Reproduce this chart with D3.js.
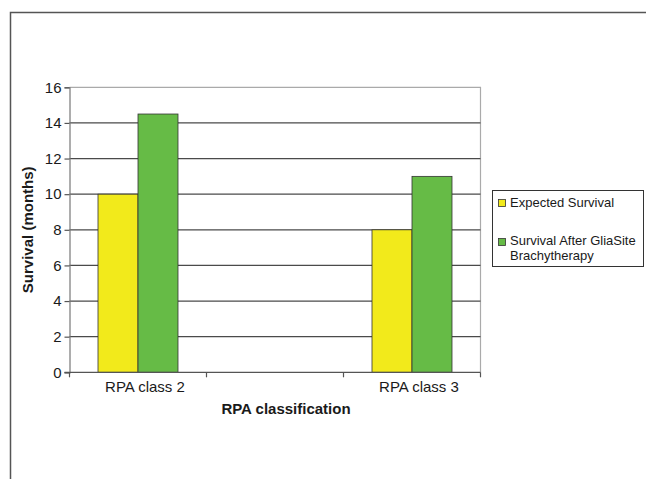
<!DOCTYPE html>
<html>
<head>
<meta charset="utf-8">
<script src="https://cdn.jsdelivr.net/npm/d3@7"></script>
<style>
  html, body { margin: 0; padding: 0; background: #fff; }
  svg { display: block; font-family: "Liberation Sans", Arial, sans-serif; }
</style>
</head>
<body>
<svg id="chart" width="646" height="479"></svg>
<script>
// Categories along the x axis (the middle slot is left empty)
const categories = ["RPA class 2", "", "RPA class 3"];
const seriesNames = ["Expected Survival", "Survival After GliaSite Brachytherapy"];
const expectedSurvival = [10, null, 8];
const survivalAfterGliaSite = [14.5, null, 11];
const yTicks = [0, 2, 4, 6, 8, 10, 12, 14, 16];
const seriesColors = ["#f2ea1b", "#66bb46"];

const svg = d3.select("#chart");

// Outer frame (left and top edges)
svg.append("path")
  .attr("d", "M10.5,479 L10.5,12.5 L646,12.5")
  .attr("fill", "none")
  .attr("stroke", "#555")
  .attr("stroke-width", 1.5);

const plot = { left: 69.5, right: 480.5, top: 87.3, bottom: 372.3 };

const x = d3.scaleBand()
  .domain(d3.range(categories.length))
  .range([plot.left, plot.right])
  .padding(0);

const bw = x.bandwidth();
const barW = 40;
const outer = (bw / barW - 2) / 2;
const x1 = d3.scaleBand()
  .domain([0, 1])
  .range([0, bw])
  .paddingInner(0)
  .paddingOuter(outer);

const y = d3.scaleLinear()
  .domain([0, 16])
  .range([plot.bottom, plot.top]);

// Plot frame (top and right)
svg.append("path")
  .attr("d", `M${plot.left},${plot.top} L${plot.right},${plot.top} L${plot.right},${plot.bottom}`)
  .attr("fill", "none")
  .attr("stroke", "#aaa")
  .attr("stroke-width", 1.2);

// Horizontal gridlines
svg.append("g")
  .selectAll("line")
  .data(yTicks.filter(d => d > 0 && d < 16))
  .join("line")
  .attr("x1", plot.left)
  .attr("x2", plot.right)
  .attr("y1", d => y(d))
  .attr("y2", d => y(d))
  .attr("stroke", "#4a4a4a")
  .attr("stroke-width", 1.2);

// Bars
const rows = categories.map((c, i) => ({ i, values: [expectedSurvival[i], survivalAfterGliaSite[i]] }));
const groups = svg.append("g")
  .selectAll("g")
  .data(rows)
  .join("g")
  .attr("transform", d => `translate(${x(d.i)},0)`);

groups.selectAll("rect")
  .data(d => d.values.map((v, k) => ({ v, k })).filter(e => e.v != null))
  .join("rect")
  .attr("x", d => x1(d.k))
  .attr("width", x1.bandwidth())
  .attr("y", d => y(d.v))
  .attr("height", d => y(0) - y(d.v))
  .attr("fill", d => seriesColors[d.k])
  .attr("stroke", "#333")
  .attr("stroke-width", 0.8);

// Y axis
const yAxis = d3.axisLeft(y).tickValues(yTicks).tickSize(5).tickPadding(3).tickFormat(d3.format("d"));
const gy = svg.append("g")
  .attr("transform", `translate(${plot.left},0)`)
  .call(yAxis);
gy.select(".domain").attr("stroke", "#777").attr("stroke-width", 1.2);
gy.selectAll(".tick line").attr("stroke", "#555").attr("stroke-width", 1.2);
gy.selectAll(".tick text")
  .attr("font-size", 15)
  .attr("fill", "#1a1a1a")
  .attr("font-family", "Liberation Sans, Arial, sans-serif");

// X axis: ticks at category boundaries, labels under each group
const boundaries = d3.range(categories.length + 1).map(i => plot.left + i * bw);
const gx = svg.append("g");
gx.append("line")
  .attr("x1", plot.left - 5).attr("x2", plot.right)
  .attr("y1", plot.bottom).attr("y2", plot.bottom)
  .attr("stroke", "#555").attr("stroke-width", 1.2);
gx.selectAll(".tk")
  .data(boundaries)
  .join("line")
  .attr("class", "tk")
  .attr("x1", d => d).attr("x2", d => d)
  .attr("y1", plot.bottom).attr("y2", plot.bottom + 5)
  .attr("stroke", "#555").attr("stroke-width", 1.2);
gx.selectAll("text")
  .data(categories.map((c, i) => ({ c, i })).filter(d => d.c))
  .join("text")
  .attr("x", d => x(d.i) + bw / 2 + 7)
  .attr("y", 392)
  .attr("text-anchor", "middle")
  .attr("font-size", 15)
  .attr("fill", "#1a1a1a")
  .text(d => d.c);

// Axis titles
svg.append("text")
  .attr("x", 286)
  .attr("y", 414)
  .attr("text-anchor", "middle")
  .attr("font-size", 15)
  .attr("font-weight", "bold")
  .attr("fill", "#1a1a1a")
  .text("RPA classification");

svg.append("text")
  .attr("transform", `translate(33,${(plot.top + plot.bottom) / 2}) rotate(-90)`)
  .attr("text-anchor", "middle")
  .attr("font-size", 15)
  .attr("font-weight", "bold")
  .attr("fill", "#1a1a1a")
  .text("Survival (months)");

// Legend
const lg = svg.append("g");
lg.append("rect")
  .attr("x", 492.5).attr("y", 190.5)
  .attr("width", 151).attr("height", 76)
  .attr("fill", "#fff")
  .attr("stroke", "#333")
  .attr("stroke-width", 1);

const legendItems = [
  { lines: ["Expected Survival"], sy: 199, ty: 207 },
  { lines: ["Survival After GliaSite", "Brachytherapy"], sy: 238, ty: 245 }
];
legendItems.forEach((it, k) => {
  lg.append("rect")
    .attr("x", 498.5).attr("y", it.sy + 0.5)
    .attr("width", 7).attr("height", 7)
    .attr("fill", seriesColors[k])
    .attr("stroke", "#333")
    .attr("stroke-width", 0.8);
  const t = lg.append("text")
    .attr("x", 510)
    .attr("y", it.ty)
    .attr("font-size", 13)
    .attr("fill", "#1a1a1a");
  it.lines.forEach((ln, j) => {
    t.append("tspan").attr("x", 510).attr("dy", j === 0 ? 0 : 15).text(ln);
  });
});
</script>
</body>
</html>
